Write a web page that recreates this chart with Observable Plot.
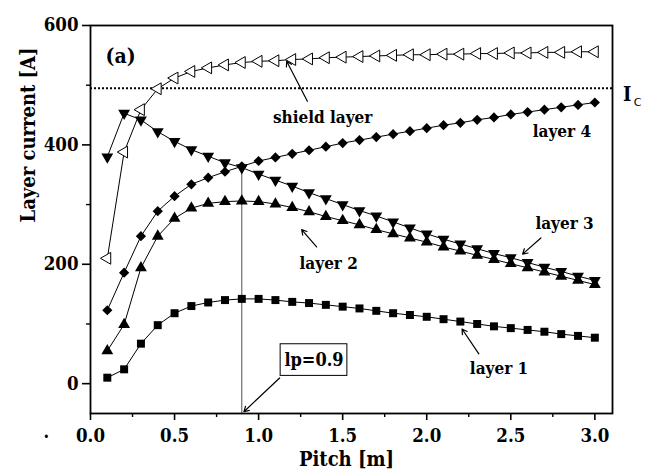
<!DOCTYPE html>
<html>
<head>
<meta charset="utf-8">
<script src="https://cdn.jsdelivr.net/npm/d3@7"></script>
<script src="https://cdn.jsdelivr.net/npm/@observablehq/plot@0.6"></script>
<style>
  html, body { margin: 0; padding: 0; background: white; }
</style>
</head>
<body>
<div id="chart"></div>
<script>
const pitch = [0.1,0.2,0.3,0.4,0.5,0.6,0.7,0.8,0.9,1.0,1.1,1.2,1.3,1.4,1.5,1.6,1.7,1.8,1.9,2.0,2.1,2.2,2.3,2.4,2.5,2.6,2.7,2.8,2.9,3.0];
const layer1 = [10,24,67,98,118,130,136,140,142,142,140,137,135,132,129,126,122,118,115,112,108,104,100,96,93,90,87,83,80,77];
const layer2 = [55,99,194,247,277,294,302,305,306,305,301,295,288,280,273,266,258,251,244,237,229,222,215,208,201,194,187,180,173,166];
const layer3 = [380,453,442,422,406,392,381,370,362,351,341,331,320,310,300,290,281,271,261,251,242,234,226,218,211,203,195,188,180,173];
const layer4 = [123,186,247,289,314,334,345,355,364,373,379,385,391,397,403,408,413,418,423,428,433,437,442,446,451,455,459,463,467,471];
const shield = [210,388,459,494,512,523,529,534,538,540,541,543,544,546,547,548,549,550,551,551,552,552,553,553,554,554,555,555,556,556];

const seriesNames = ["layer 1","layer 2","layer 3","layer 4","shield layer"];
const seriesValues = [layer1, layer2, layer3, layer4, shield];

const xMajor = [0,0.5,1.0,1.5,2.0,2.5,3.0];
const xMinor = [0.25,0.75,1.25,1.75,2.25,2.75];
const yMajor = [0,200,400,600];
const yMinor = [100,300,500];

const icValue = 495;
const lpValue = 0.9;

const labelTexts = ["(a)","shield layer","layer 4","layer 3","layer 2","layer 1"];
const labelX = [0.179,1.381,2.804,2.82,1.417,2.43];
const labelY = [548,446,423,269,202,25];

const arrowFromX = [1.29,2.679,1.345,2.31,1.125];
const arrowFromY = [473,244,229,50,9.5];
const arrowToX = [1.167,2.57,1.256,2.21,0.9125];
const arrowToY = [540,217,258,91.5,-47];

const lpBoxX = [1.131,1.528];
const lpBoxY = [13,66];

const rows = [];
seriesNames.forEach((name, s) => {
  pitch.forEach((p, i) => rows.push({series: name, pitch: p, current: seriesValues[s][i]}));
});
const bySeries = name => rows.filter(d => d.series === name);

const labels = labelTexts.map((t, i) => ({t, x: labelX[i], y: labelY[i]}));
const arrows = arrowFromX.map((x, i) => ({x1: x, y1: arrowFromY[i], x2: arrowToX[i], y2: arrowToY[i]}));

const font = "'DejaVu Serif Condensed', 'DejaVu Serif', serif";
const txt = {fontFamily: font, fontWeight: "bold"};

const chart = Plot.plot({
  width: 646,
  height: 474,
  marginLeft: 90,
  marginRight: 34,
  marginTop: 25,
  marginBottom: 61,
  style: {fontFamily: font, background: "white", color: "black"},
  x: {domain: [0, 3.105]},
  y: {domain: [-50, 600]},
  marks: [
    Plot.ruleY([icValue], {stroke: "black", strokeWidth: 2, strokeDasharray: "2,2"}),
    Plot.ruleX([lpValue], {y1: -50, y2: layer4[pitch.indexOf(lpValue)], stroke: "#222", strokeWidth: 0.8}),
    ...seriesNames.map(n => Plot.line(bySeries(n), {x: "pitch", y: "current", stroke: "black", strokeWidth: 1})),
    Plot.dot(bySeries("layer 1"), {x: "pitch", y: "current", symbol: "square", r: 4.5, fill: "black", stroke: "none"}),
    Plot.dot(bySeries("layer 2"), {x: "pitch", y: "current", symbol: "triangle", r: 4.4, fill: "black", stroke: "none"}),
    Plot.dot(bySeries("layer 3"), {x: "pitch", y: "current", symbol: "triangle", rotate: 180, r: 4.4, fill: "black", stroke: "none"}),
    Plot.dot(bySeries("layer 4"), {x: "pitch", y: "current", symbol: "diamond2", r: 4.6, fill: "black", stroke: "none"}),
    Plot.dot(bySeries("shield layer"), {x: "pitch", y: "current", symbol: "triangle", rotate: -90, r: 4.4, fill: "white", stroke: "black", strokeWidth: 1}),
    Plot.frame({stroke: "black", strokeWidth: 1.8}),
    Plot.axisY(yMajor, {tickSize: 8, tickPadding: 4, strokeWidth: 1.6, fontSize: 18.5, ...txt, label: null, tickFormat: d => String(d)}),
    Plot.axisY(yMinor, {tickSize: 4, strokeWidth: 1.4, label: null, tickFormat: () => ""}),
    Plot.axisX(xMajor, {tickSize: 7, tickPadding: 8, strokeWidth: 1.6, fontSize: 18.5, ...txt, label: null, tickFormat: d => d.toFixed(1)}),
    Plot.axisX(xMinor, {tickSize: 4, strokeWidth: 1.4, label: null, tickFormat: () => ""}),
    Plot.text(labels.slice(0,1), {x: "x", y: "y", text: "t", fontSize: 21, ...txt}),
    Plot.text(labels.slice(1), {x: "x", y: "y", text: "t", fontSize: 17, ...txt}),
    Plot.arrow(arrows, {x1: "x1", y1: "y1", x2: "x2", y2: "y2", stroke: "black", strokeWidth: 1.2, headLength: 7, bend: 0}),
    Plot.rect([{x1: lpBoxX[0], x2: lpBoxX[1], y1: lpBoxY[0], y2: lpBoxY[1]}], {x1: "x1", x2: "x2", y1: "y1", y2: "y2", fill: "white", stroke: "black", strokeWidth: 1}),
    Plot.text(["lp=0.9"], {x: (lpBoxX[0] + lpBoxX[1]) / 2, y: (lpBoxY[0] + lpBoxY[1]) / 2, fontSize: 18, ...txt}),
    Plot.text(["I"], {frameAnchor: "top-right", dx: 19, dy: 61, fontSize: 20, ...txt}),
    Plot.text(["C"], {frameAnchor: "top-right", dx: 29, dy: 73, fontSize: 11, fontFamily: "DejaVu Sans"}),
    Plot.text(["Layer current [A]"], {frameAnchor: "left", dx: -62, dy: 3, rotate: -90, fontSize: 20, ...txt}),
    Plot.text(["Pitch [m]"], {frameAnchor: "bottom", dx: -5, dy: 52, fontSize: 20, ...txt}),
    Plot.text(["."], {frameAnchor: "bottom-left", dx: -47, dy: 24, fontSize: 18, ...txt})
  ]
});
document.getElementById("chart").appendChild(chart);
</script>
</body>
</html>
